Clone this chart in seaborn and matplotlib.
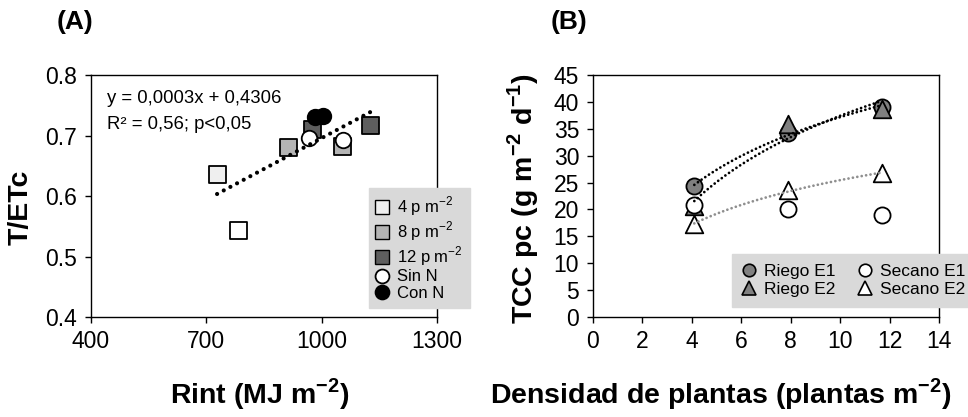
import numpy as np
import pandas as pd
import matplotlib
matplotlib.use("Agg")
import matplotlib.pyplot as plt
import seaborn as sns
from matplotlib.lines import Line2D

# ---------------- data: panel A ----------------
rint_sq = [728, 785, 915, 1053, 977, 1126]
tetc_sq = [0.636, 0.543, 0.680, 0.682, 0.710, 0.717]
serie_sq = ["4a", "4b", "8", "8", "12", "12"]
rint_sin = [967, 1056]
tetc_sin = [0.696, 0.692]
rint_con = [983, 1003]
tetc_con = [0.730, 0.733]
eq_line1 = "y = 0,0003x + 0,4306"
eq_line2 = "R² = 0,56; p<0,05"
legA_labels = ["4 p m$^{\\mathregular{-2}}$", "8 p m$^{\\mathregular{-2}}$",
               "12 p m$^{\\mathregular{-2}}$", "Sin N", "Con N"]
xticksA = [400, 700, 1000, 1300]
yticksA = [0.4, 0.5, 0.6, 0.7, 0.8]

# ---------------- data: panel B ----------------
dens = [4.1, 7.9, 11.7]
riego_e1 = [24.4, 34.3, 39.1]
riego_e2 = [20.6, 35.8, 38.6]
secano_e1 = [20.9, 20.0, 18.9]
secano_e2 = [17.3, 23.6, 26.7]
legB_labels = ["Riego E1", "Riego E2", "Secano E1", "Secano E2"]
xticksB = [0, 2, 4, 6, 8, 10, 12, 14]
yticksB = [0, 5, 10, 15, 20, 25, 30, 35, 40, 45]

# ---------------- styles ----------------
sns.set_theme(style="white")
plt.rcParams["font.family"] = ["Liberation Sans", "DejaVu Sans"]
plt.rcParams["mathtext.fontset"] = "custom"
plt.rcParams["mathtext.rm"] = "Liberation Sans"
plt.rcParams["mathtext.bf"] = "Liberation Sans:bold"
for k in ("text.color", "axes.labelcolor", "xtick.color", "ytick.color"):
    plt.rcParams[k] = "black"
sq_colors = {"4a": "#efefef", "4b": "#ffffff", "8": "#b4b4b4", "12": "#5e5e5e"}
gray_fill = "#808080"
leg_bg = "#d9d9d9"
tick_fs = 16.5
lab_fs = 20.5

fig = plt.figure(figsize=(9.68, 4.17), dpi=100)
axA = fig.add_axes([0.094, 0.2398, 0.3574, 0.5803])
axB = fig.add_axes([0.6126, 0.2398, 0.3574, 0.5803])

# ---------------- panel A ----------------
dfA = pd.DataFrame({"rint": rint_sq, "tetc": tetc_sq, "serie": serie_sq})
sns.scatterplot(data=dfA, x="rint", y="tetc", hue="serie", palette=sq_colors,
                marker="s", s=150, edgecolor="black", linewidth=1.3,
                legend=False, ax=axA, zorder=3)
sns.scatterplot(x=rint_sin, y=tetc_sin, marker="o", s=125, color="white",
                edgecolor="black", linewidth=1.3, ax=axA, zorder=4)
sns.scatterplot(x=rint_con, y=tetc_con, marker="o", s=125, color="black",
                edgecolor="black", linewidth=1.3, ax=axA, zorder=4)
all_x = rint_sq + rint_sin + rint_con
all_y = tetc_sq + tetc_sin + tetc_con
sns.regplot(x=np.array(all_x, float), y=np.array(all_y, float), scatter=False,
            ci=None, truncate=True, ax=axA,
            line_kws=dict(color="black", lw=3.0, linestyle=(0, (0.01, 1.8)),
                          dash_capstyle="round", zorder=5))
axA.set_xlim(400, 1300)
axA.set_ylim(0.4, 0.8)
axA.set_xticks(xticksA)
axA.set_yticks(yticksA)
axA.set_yticklabels([f"{v:.1f}" for v in yticksA])
axA.text(0.046, 0.905, eq_line1, transform=axA.transAxes, fontsize=13.3,
         va="center", ha="left")
axA.text(0.046, 0.797, eq_line2, transform=axA.transAxes, fontsize=13.3,
         va="center", ha="left")

handlesA = [
    Line2D([], [], ls="", marker="s", ms=9.5, mfc=sq_colors["4a"], mec="black", mew=1),
    Line2D([], [], ls="", marker="s", ms=9.5, mfc=sq_colors["8"], mec="black", mew=1),
    Line2D([], [], ls="", marker="s", ms=9.5, mfc=sq_colors["12"], mec="black", mew=1),
    Line2D([], [], ls="", marker="o", ms=10, mfc="white", mec="black", mew=1.3),
    Line2D([], [], ls="", marker="o", ms=10, mfc="black", mec="black", mew=1.3),
]
legA = axA.legend(handlesA, legA_labels, loc="upper left",
                  bbox_to_anchor=(0.803, 0.535), frameon=True, fancybox=False,
                  fontsize=12, handlelength=0.8, handletextpad=0.5,
                  labelspacing=0.08, borderpad=0.42, borderaxespad=0)
legA.get_frame().set_facecolor(leg_bg)
legA.get_frame().set_edgecolor(leg_bg)
legA.get_frame().set_alpha(1)

# ---------------- panel B ----------------
xs = np.linspace(min(dens), max(dens), 200)
def log_fit(vals):
    b, a = np.polyfit(np.log(dens), vals, 1)
    return a + b * np.log(xs)

sns.scatterplot(x=dens, y=riego_e1, marker="o", s=135, color=gray_fill,
                edgecolor="black", linewidth=1.3, ax=axB, zorder=3)
sns.scatterplot(x=dens, y=riego_e2, marker="^", s=160, color=gray_fill,
                edgecolor="black", linewidth=1.3, ax=axB, zorder=3)
sns.scatterplot(x=dens, y=secano_e1, marker="o", s=135, color="white",
                edgecolor="black", linewidth=1.3, ax=axB, zorder=3)
sns.scatterplot(x=dens, y=secano_e2, marker="^", s=160, color="white",
                edgecolor="black", linewidth=1.3, ax=axB, zorder=3)
dot_style = dict(lw=2.0, linestyle=(0, (0.01, 1.6)), dash_capstyle="round", zorder=5)
sns.lineplot(x=xs, y=log_fit(riego_e1), color="black", ax=axB, **dot_style)
sns.lineplot(x=xs, y=log_fit(riego_e2), color="black", ax=axB, **dot_style)
sns.lineplot(x=xs, y=log_fit(secano_e2), color="#8f8f8f", ax=axB, **dot_style)
axB.set_xlim(0, 14)
axB.set_ylim(0, 45)
axB.set_xticks(xticksB)
axB.set_yticks(yticksB)

handlesB = [
    Line2D([], [], ls="", marker="o", ms=9, mfc=gray_fill, mec="black", mew=1.2),
    Line2D([], [], ls="", marker="^", ms=10, mfc=gray_fill, mec="black", mew=1.2),
    Line2D([], [], ls="", marker="o", ms=9, mfc="white", mec="black", mew=1.2),
    Line2D([], [], ls="", marker="^", ms=10, mfc="white", mec="black", mew=1.2),
]
legB = axB.legend(handlesB, legB_labels, loc="upper left", ncol=2,
                  bbox_to_anchor=(0.402, 0.262), frameon=True, fancybox=False,
                  fontsize=12.5, handlelength=0.8, handletextpad=0.45,
                  labelspacing=0.15, columnspacing=1.3, borderpad=0.6,
                  borderaxespad=0)
legB.get_frame().set_facecolor(leg_bg)
legB.get_frame().set_edgecolor(leg_bg)
legB.get_frame().set_alpha(1)

# ---------------- common axes styling ----------------
for ax in (axA, axB):
    for sp in ax.spines.values():
        sp.set_visible(True)
        sp.set_color("black")
        sp.set_linewidth(1.0)
    ax.tick_params(axis="both", which="both", direction="out", length=4,
                   width=1, color="black", labelsize=tick_fs,
                   bottom=True, left=True, top=False, right=False,
                   labelcolor="black")
    ax.tick_params(axis="y", pad=6)
    ax.tick_params(axis="x", pad=5)
    ax.grid(False)
    ax.set_facecolor("white")

axA.set_xlabel("Rint (MJ m$^{\\mathregular{-2}}$)", fontsize=lab_fs, fontweight="bold")
axA.set_ylabel("T/ETc", fontsize=lab_fs, fontweight="bold")
axB.set_xlabel("Densidad de plantas (plantas m$^{\\mathregular{-2}}$)",
               fontsize=lab_fs, fontweight="bold")
axB.set_ylabel("TCC pc (g m$^{\\mathregular{-2}}$ d$^{\\mathregular{-1}}$)",
               fontsize=lab_fs, fontweight="bold")
for ax in (axA, axB):
    ax.xaxis.label.set_va("center")
    ax.yaxis.label.set_va("center")
axA.xaxis.set_label_coords(0.488, -0.318)
axA.yaxis.set_label_coords(-0.202, 0.455)
axB.xaxis.set_label_coords(0.37, -0.318)
axB.yaxis.set_label_coords(-0.202, 0.49)

fig.text(75 / 968, 1 - 22 / 417, "(A)", fontsize=19, fontweight="bold",
         ha="center", va="center")
fig.text(569 / 968, 1 - 22 / 417, "(B)", fontsize=19, fontweight="bold",
         ha="center", va="center")

fig.savefig("out.png", dpi=100, facecolor="white")
